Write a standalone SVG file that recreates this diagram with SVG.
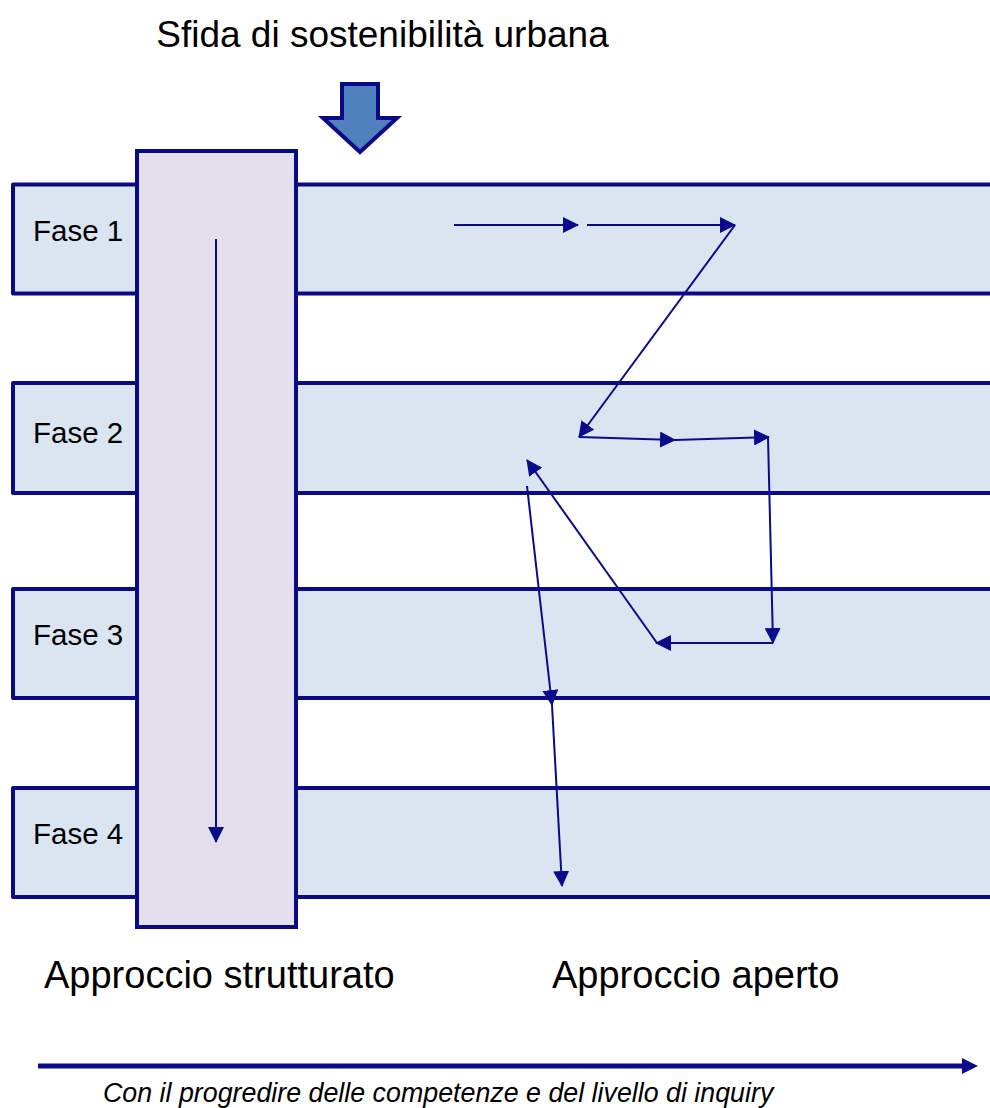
<svg xmlns="http://www.w3.org/2000/svg" width="990" height="1108" viewBox="0 0 990 1108">
<defs>
<style>
.band{fill:#dbe5f1;stroke:#0a0a84;stroke-width:4;stroke-linejoin:round}
.col{fill:#e4dfec;stroke:#0a0a84;stroke-width:4}
.lbl{font-family:"Liberation Sans",Arial,sans-serif;font-size:29.5px;fill:#000}
.big{font-family:"Liberation Sans",Arial,sans-serif;font-size:38px;fill:#000}
.cap{font-family:"Liberation Sans",Arial,sans-serif;font-size:26.8px;font-style:italic;fill:#000}
.c{stroke:#0a0a8c;stroke-width:2;fill:none;marker-end:url(#ah)}
</style>
<marker id="ah" markerUnits="userSpaceOnUse" markerWidth="16" markerHeight="16" refX="15" refY="8" orient="auto">
<path d="M0,0 L16,8 L0,16 Z" fill="#0a0a8c"/>
</marker>
</defs>
<rect width="990" height="1108" fill="#fff"/>
<text class="big" x="382.5" y="47" text-anchor="middle" style="font-size:37px">Sfida di sostenibilità urbana</text>
<g id="arrow-top">
<path d="M342,84 L378,84 L378,118 L397,118 L360,152 L323,118 L342,118 Z" fill="#4f81bd" stroke="#0a0a84" stroke-width="4" stroke-linejoin="miter"/>
</g>
<g id="fase1"><rect class="band" x="13" y="184.5" width="1000" height="109"/><text class="lbl" x="33" y="241">Fase 1</text></g>
<g id="fase2"><rect class="band" x="13" y="383" width="1000" height="110"/><text class="lbl" x="33" y="443">Fase 2</text></g>
<g id="fase3"><rect class="band" x="13" y="589" width="1000" height="109"/><text class="lbl" x="33" y="645">Fase 3</text></g>
<g id="fase4"><rect class="band" x="13" y="788" width="1000" height="109"/><text class="lbl" x="33" y="844">Fase 4</text></g>
<g id="strutturato"><rect class="col" x="137" y="151" width="159" height="776"/></g>
<g id="connectors">
<line class="c" x1="216" y1="239" x2="216" y2="842"/>
<line class="c" x1="454" y1="225" x2="578" y2="225"/>
<line class="c" x1="587" y1="225" x2="735" y2="225"/>
<line class="c" x1="735" y1="225" x2="579" y2="437"/>
<line class="c" x1="579" y1="437" x2="675" y2="440"/>
<line class="c" x1="675" y1="440" x2="769" y2="437"/>
<line class="c" x1="768" y1="437" x2="773" y2="643"/>
<line class="c" x1="773" y1="643" x2="656" y2="643"/>
<line class="c" x1="657" y1="643" x2="527" y2="460"/>
<line class="c" x1="527" y1="486" x2="552" y2="705"/>
<line class="c" x1="552" y1="705" x2="562" y2="886"/>
<line x1="38" y1="1066" x2="964" y2="1066" stroke="#0a0a8c" stroke-width="5"/>
<path d="M962,1058 L978,1066 L962,1074 Z" fill="#0a0a8c"/>
</g>
<text class="big" x="44" y="988">Approccio strutturato</text>
<text class="big" x="552" y="988">Approccio aperto</text>
<text class="cap" x="103" y="1102">Con il progredire delle competenze e del livello di inquiry</text>
</svg>
